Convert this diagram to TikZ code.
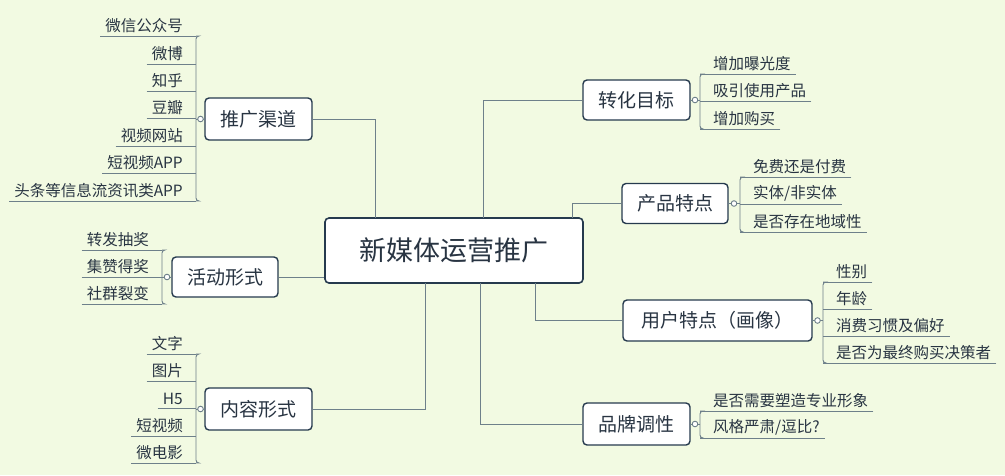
\documentclass[tikz,border=0pt]{standalone}
\usepackage{fontspec}
\usetikzlibrary{calc}
\setmainfont{Noto Sans CJK SC}
\definecolor{bgc}{RGB}{242,250,226}
\definecolor{lnc}{RGB}{110,128,138}
\definecolor{bdc}{RGB}{38,58,78}
\definecolor{txc}{RGB}{40,52,66}
\begin{document}
\begin{tikzpicture}[x=1pt,y=-1pt,
  ln/.style={draw=lnc, line width=0.9pt},
  br/.style={draw=bdc, line width=1.4pt, rounded corners=4pt, fill=white, inner xsep=10pt, inner ysep=5pt, font=\fontsize{19}{22}\selectfont, text=txc},
  lf/.style={inner xsep=5pt, inner ysep=3pt, font=\fontsize{15.5}{17}\selectfont, text=txc}]
\fill[bgc] (0,0) rectangle (1005,475);
\useasboundingbox (0,0) rectangle (1005,475);
\newcommand{\leafL}[4]{\node[lf,anchor=south east] (#1) at (#2-8,#3) {#4};
  \draw[ln,rounded corners=3pt] (#1.south west) -- (#2,#3);}
\newcommand{\leafR}[4]{\node[lf,anchor=south west] (#1) at (#2+8,#3) {#4};
  \draw[ln] (#1.south east) -- (#2,#3);}
\newcommand{\brk}[5]{% x, y1, y2, hub y, node x
  \draw[ln,rounded corners=3pt] (#1+0.1,#2) -- (#1,#2) -- (#1,#3) -- (#1+0.1,#3);
  \draw[ln] (#1,#4) -- (#5,#4);
  \draw[ln,fill=white] ($(#1,#4)!0.5!(#5,#4)$) circle (2.8);}
\node[br, line width=1.6pt, minimum width=258, minimum height=65, font=\fontsize{27}{30}\selectfont] (c) at (454,250.5) {新媒体运营推广};
\node[br, minimum width=107, minimum height=42] (a) at (258.5,119) {推广渠道};
\node[br, minimum width=106, minimum height=40] (b) at (225,277) {活动形式};
\node[br, minimum width=107, minimum height=42] (d) at (258.5,409) {内容形式};
\node[br, minimum width=107, minimum height=40] (e) at (636.5,100) {转化目标};
\node[br, minimum width=106, minimum height=40] (f) at (675,203.5) {产品特点};
\node[br, minimum width=189, minimum height=41] (g) at (717.5,320.5) {用户特点（画像）};
\node[br, minimum width=107, minimum height=42] (h) at (636.5,424) {品牌调性};
\draw[ln] (a.east) -| (375,218);
\draw[ln] (b.east) -- (c.west |- b.east);
\draw[ln] (d.east) -| (425,283);
\draw[ln] (e.west) -| (483,218);
\draw[ln] (f.west) -| (572,218);
\draw[ln] (g.west) -| (535,283);
\draw[ln] (h.west) -| (480,283);
% left leaves
\leafL{a1}{196}{36}{微信公众号}\leafL{a2}{196}{64}{微博}\leafL{a3}{196}{91}{知乎}
\leafL{a4}{196}{118}{豆瓣}\leafL{a5}{196}{146}{视频网站}\leafL{a6}{196}{173}{短视频APP}
\leafL{a7}{196}{201}{头条等信息流资讯类APP}
\brk{196}{36}{201}{119}{205}
\leafL{b1}{162}{250}{转发抽奖}\leafL{b2}{162}{277}{集赞得奖}\leafL{b3}{162}{304}{社群裂变}
\brk{162}{250}{304}{277}{172}
\leafL{d1}{196}{354}{文字}\leafL{d2}{196}{381}{图片}\leafL{d3}{196}{408}{H5}
\leafL{d4}{196}{436}{短视频}\leafL{d5}{196}{463}{微电影}
\brk{196}{354}{463}{409}{205}
% right leaves
\leafR{e1}{700}{74}{增加曝光度}\leafR{e2}{700}{101}{吸引使用产品}\leafR{e3}{700}{129}{增加购买}
\brk{700}{74}{129}{100}{690}
\leafR{f1}{740}{177}{免费还是付费}\leafR{f2}{740}{204}{实体/非实体}\leafR{f3}{740}{232}{是否存在地域性}
\brk{740}{177}{232}{203.5}{728}
\leafR{g1}{823}{282}{性别}\leafR{g2}{823}{309}{年龄}\leafR{g3}{823}{336}{消费习惯及偏好}
\leafR{g4}{823}{363}{是否为最终购买决策者}
\brk{823}{282}{363}{320.5}{812}
\leafR{h1}{700}{411}{是否需要塑造专业形象}\leafR{h2}{700}{438}{风格严肃/逗比?}
\brk{700}{411}{438}{424}{690}
\end{tikzpicture}
\end{document}
